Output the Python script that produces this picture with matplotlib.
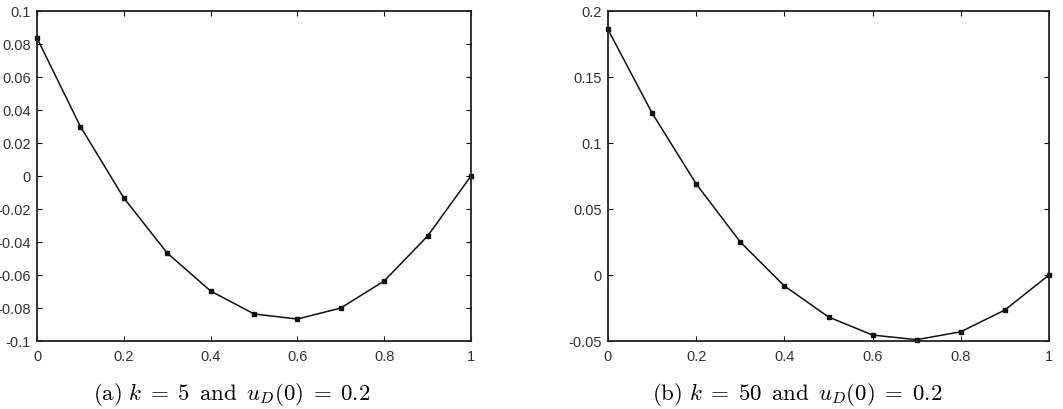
import matplotlib
matplotlib.use("Agg")
import matplotlib.pyplot as plt
from matplotlib.ticker import FuncFormatter

plt.rcParams['mathtext.fontset'] = 'cm'
plt.rcParams['axes.unicode_minus'] = False
plt.rcParams['font.family'] = 'Liberation Sans'

# data
x = [0.0, 0.1, 0.2, 0.3, 0.4, 0.5, 0.6, 0.7, 0.8, 0.9, 1.0]
uA = [0.0836, 0.030, -0.0133, -0.0467, -0.0697, -0.0836, -0.0867, -0.080, -0.0636, -0.0364, 0.0]
uB = [0.186, 0.1227, 0.069, 0.025, -0.0083, -0.0318, -0.0455, -0.049, -0.043, -0.0265, 0.0]

ticksA = [-0.1, -0.08, -0.06, -0.04, -0.02, 0, 0.02, 0.04, 0.06, 0.08, 0.1]
ticksB = [-0.05, 0, 0.05, 0.1, 0.15, 0.2]
xticks = [0, 0.2, 0.4, 0.6, 0.8, 1]

captA = r"$\mathrm{(a)}\ k\;=\;5\ \,\mathrm{and}\ \,u_D(0)\;=\;0.2$"
captB = r"$\mathrm{(b)}\ k\;=\;50\ \,\mathrm{and}\ \,u_D(0)\;=\;0.2$"

fig = plt.figure(figsize=(10.63, 4.10), dpi=100)
axA = fig.add_axes([37/1063, 68/410, 434/1063, 330/410])
axB = fig.add_axes([608/1063, 68/410, 441/1063, 330/410])

fmt = FuncFormatter(lambda v, p: '%g' % round(v, 4))

for ax, u, yt in [(axA, uA, ticksA), (axB, uB, ticksB)]:
    ax.plot(x, u, color='#111111', lw=1.1, marker='s', ms=2.2, clip_on=False)
    ax.set_xlim(0, 1)
    ax.set_ylim(yt[0], yt[-1])
    ax.set_xticks(xticks)
    ax.set_yticks(yt)
    ax.xaxis.set_major_formatter(fmt)
    ax.yaxis.set_major_formatter(fmt)
    ax.tick_params(direction='in', top=True, right=True, length=3.5, width=0.8,
                   labelsize=10.5, labelcolor='#333333')
    ax.tick_params(axis='x', pad=6)
    ax.tick_params(axis='y', pad=4.5)
    for s in ax.spines.values():
        s.set_linewidth(1.3)
        s.set_color('#222222')

fig.text(232/1063, 1 - 395/410, captA, ha='center', va='center', fontsize=16.5)
fig.text(797/1063, 1 - 395/410, captB, ha='center', va='center', fontsize=16.5)

fig.savefig('out.png', dpi=100)
